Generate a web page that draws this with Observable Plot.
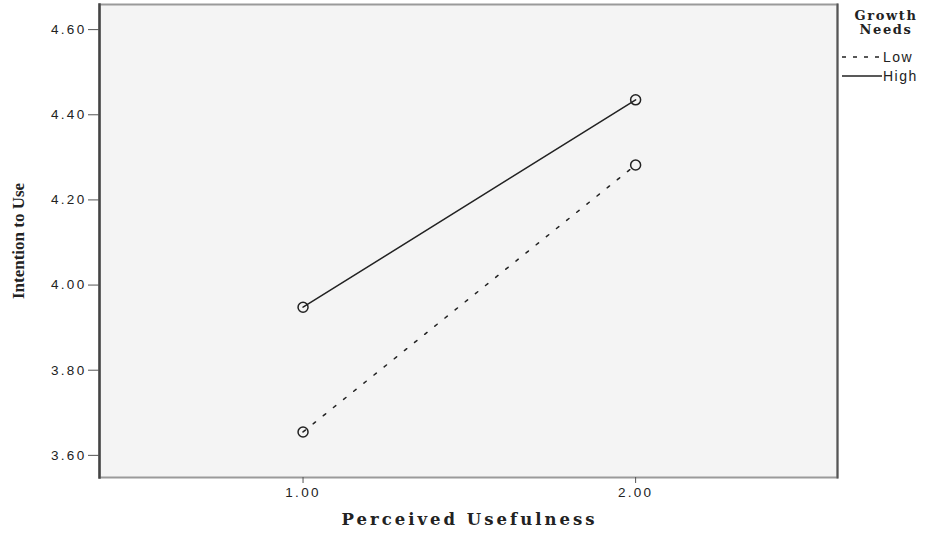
<!DOCTYPE html>
<html>
<head>
<meta charset="utf-8">
<script src="https://cdn.jsdelivr.net/npm/d3@7"></script>
<script src="https://cdn.jsdelivr.net/npm/@observablehq/plot@0.6"></script>
<style>
  body { margin: 0; background: #fff; }
  #wrap { position: relative; width: 933px; height: 536px; }
  #wrap svg g[aria-label="y-axis tick label"] text,
  #wrap svg g[aria-label="x-axis tick label"] text { letter-spacing: 2.3px; font-size: 13.5px; }
  #wrap svg .xtitle { letter-spacing: 3px; }
  #legend { position: absolute; left: 842px; top: 9px; width: 91px; font-family: "Liberation Sans", Arial, sans-serif; font-size: 14px; color: #222; letter-spacing: 1.5px; }
  #legend .title { font-family: "DejaVu Serif", "Liberation Serif", serif; font-weight: bold; font-size: 13px; text-align: center; line-height: 14px; width: 88px; letter-spacing: 1.6px; }
  #legend .row { display: flex; align-items: center; height: 19px; }
  #legend svg { margin-right: 1px; }
</style>
</head>
<body>
<div id="wrap"></div>
<script>
const groups = ["Low", "High"];
const xValues = [1, 2];
const lowValues = [3.655, 4.282];
const highValues = [3.948, 4.435];
const yTicks = [3.6, 3.8, 4.0, 4.2, 4.4, 4.6];
const xTicks = [1, 2];
const legendTitle = ["Growth", "Needs"];

const data = [
  ...xValues.map((x, i) => ({x, y: lowValues[i], g: "Low"})),
  ...xValues.map((x, i) => ({x, y: highValues[i], g: "High"}))
];

const chart = Plot.plot({
  width: 933,
  height: 536,
  marginLeft: 99,
  marginRight: 96,
  marginTop: 4,
  marginBottom: 59,
  style: {fontFamily: "'Liberation Sans', Arial, sans-serif", fontSize: "13px", color: "#222", background: "#fff"},
  x: {domain: [0.388, 2.607], ticks: xTicks, tickFormat: d3.format(".2f"), label: null},
  y: {domain: [3.548, 4.659], ticks: yTicks, tickFormat: d3.format(".2f"), label: null},
  marks: [
    Plot.frame({fill: "#f4f4f4", stroke: "#9a9a9a", strokeWidth: 2}),
    Plot.frame({anchor: "left", stroke: "#444", strokeWidth: 2.5}),
    Plot.frame({anchor: "right", stroke: "#555", strokeWidth: 2}),
    Plot.axisX({ticks: xTicks, tickFormat: d3.format(".2f"), tickSize: 6, tickPadding: 4, stroke: "#555", label: null}),
    Plot.axisY({ticks: yTicks, tickFormat: d3.format(".2f"), tickSize: 11, tickPadding: 2, stroke: "#555", label: null}),
    Plot.line(data.filter(d => d.g === "Low"), {x: "x", y: "y", stroke: "#222", strokeWidth: 1.5, strokeDasharray: "3,10"}),
    Plot.line(data.filter(d => d.g === "High"), {x: "x", y: "y", stroke: "#222", strokeWidth: 1.5}),
    Plot.dot(data, {x: "x", y: "y", r: 5, stroke: "#222", strokeWidth: 1.5, fill: "none"}),
    Plot.text(["Perceived Usefulness"], {frameAnchor: "bottom", dy: 47, dx: 1, className: "xtitle", fontFamily: "'DejaVu Serif', 'Liberation Serif', serif", fontWeight: "bold", fontSize: 16.5, fill: "#222"}),
    Plot.text(["Intention to Use"], {frameAnchor: "left", textAnchor: "middle", dx: -81, rotate: -90, fontFamily: "'Liberation Serif', 'Times New Roman', serif", fontWeight: "bold", fontSize: 17, fill: "#222"})
  ]
});

const wrap = document.getElementById("wrap");
wrap.appendChild(chart);

const legend = document.createElement("div");
legend.id = "legend";
legend.innerHTML = `<div class="title">${legendTitle.join("<br>")}</div>
<div style="height:10px"></div>
<div class="row"><svg width="40" height="6"><line x1="0" y1="3" x2="40" y2="3" stroke="#222" stroke-width="1.5" stroke-dasharray="4,7"/></svg>${groups[0]}</div>
<div class="row"><svg width="40" height="6"><line x1="0" y1="3" x2="40" y2="3" stroke="#222" stroke-width="1.5"/></svg>${groups[1]}</div>`;
wrap.appendChild(legend);
</script>
</body>
</html>
